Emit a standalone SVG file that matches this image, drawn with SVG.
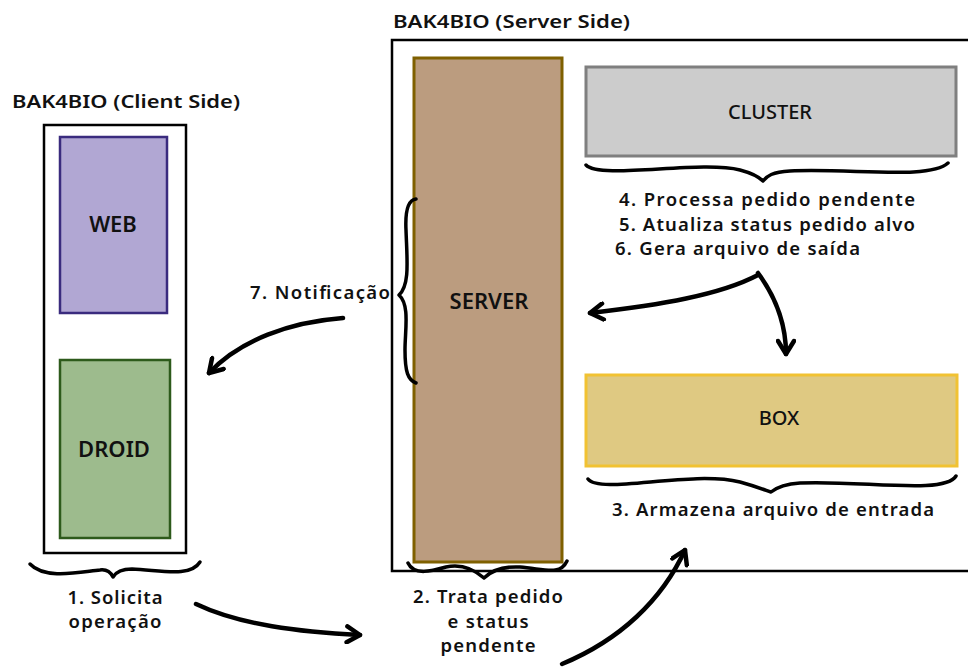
<svg xmlns="http://www.w3.org/2000/svg" width="968" height="669" viewBox="0 0 968 669">
  <defs>
    <style>
      text { font-family: "Noto Sans", "DejaVu Sans", sans-serif; fill: #111; }
      .title { font-size: 17px; font-weight: 600; }
      .lbl { font-size: 18.5px; font-weight: 600; }
      .node { font-size: 22px; font-weight: 600; text-anchor: middle; }
      .nodeR { font-size: 20px; font-weight: 500; text-anchor: middle; }
      .mid { text-anchor: middle; }
      .frame { fill: #fff; stroke: #000; stroke-width: 2.5; }
      .brace { fill: none; stroke: #000; stroke-width: 3.5; stroke-linecap: round; stroke-linejoin: round; }
      .arrow { fill: none; stroke: #000; stroke-width: 4.5; stroke-linecap: round; marker-end: url(#head); }
    </style>
    <marker id="head" viewBox="-16 -10 20 20" refX="0" refY="0" markerWidth="20" markerHeight="20" markerUnits="userSpaceOnUse" orient="auto">
      <path d="M-13,-8 L0,0 L-13,8" fill="none" stroke="#000" stroke-width="4.5" stroke-linecap="round" stroke-linejoin="round"/>
    </marker>
  </defs>

  <!-- client side -->
  <g id="client">
    <text class="title" x="12" y="108" textLength="228" lengthAdjust="spacingAndGlyphs">BAK4BIO (Client Side)</text>
    <rect class="frame" x="44" y="125" width="142" height="428"/>
  </g>
  <g id="web">
    <rect x="60" y="137" width="107" height="176" fill="#b1a7d3" stroke="#3a2b7e" stroke-width="2.5"/>
    <text class="node" x="113" y="232">WEB</text>
  </g>
  <g id="droid">
    <rect x="60" y="360" width="110" height="178" fill="#9dbb8d" stroke="#2d5a1b" stroke-width="2.5"/>
    <text class="node" x="114" y="457">DROID</text>
  </g>

  <!-- server side -->
  <g id="server-side">
    <text class="title" x="393" y="28" textLength="237" lengthAdjust="spacingAndGlyphs">BAK4BIO (Server Side)</text>
    <rect class="frame" x="392" y="40" width="600" height="531" stroke-width="2"/>
  </g>
  <g id="server">
    <rect x="414" y="58" width="148" height="504" fill="#bb9c7f" stroke="#7f6000" stroke-width="3"/>
    <text class="node" x="489" y="309">SERVER</text>
  </g>
  <g id="cluster">
    <rect x="586" y="67" width="370" height="89" fill="#cccccc" stroke="#7f7f7f" stroke-width="3"/>
    <text class="nodeR" x="770" y="119">CLUSTER</text>
  </g>
  <g id="box">
    <rect x="586" y="375" width="371" height="91" fill="#dfc982" stroke="#f1c232" stroke-width="3"/>
    <text class="nodeR" x="779" y="425">BOX</text>
  </g>

  <!-- annotations -->
  <g id="step1">
    <path class="brace" d="M30,564 C45,580 80,572 100,570 C108,569 111,573 113,577 C116,572 121,569 132,569 C160,570 190,578 200,562"/>
    <text class="lbl mid" x="115" y="604" textLength="95" lengthAdjust="spacing">1. Solicita</text>
    <text class="lbl mid" x="115" y="628" textLength="93" lengthAdjust="spacing">operação</text>
  </g>
  <g id="step2">
    <path class="brace" d="M408,563 C414,576 432,571 446,567 C464,563 476,571 484,578 C490,572 500,566 520,567 C545,569 560,576 567,561"/>
    <text class="lbl mid" x="488" y="603" textLength="150" lengthAdjust="spacing">2. Trata pedido</text>
    <text class="lbl mid" x="488" y="628" textLength="81" lengthAdjust="spacing">e status</text>
    <text class="lbl mid" x="488" y="652" textLength="95" lengthAdjust="spacing">pendente</text>
  </g>
  <g id="step3">
    <path class="brace" d="M588,479 C600,495 690,470 740,482 C758,487 765,490 771,492 C776,488 785,484 800,483 C860,480 945,495 956,476"/>
    <text class="lbl mid" x="773" y="516" textLength="322" lengthAdjust="spacing">3. Armazena arquivo de entrada</text>
  </g>
  <g id="steps456">
    <path class="brace" d="M586,165 C600,180 700,160 740,170 C755,174 760,178 763,181 C767,176 772,172 790,171 C850,168 930,180 948,163"/>
    <text class="lbl" x="619" y="206" textLength="296" lengthAdjust="spacing">4. Processa pedido pendente</text>
    <text class="lbl" x="619" y="231" textLength="296" lengthAdjust="spacing">5. Atualiza status pedido alvo</text>
    <text class="lbl" x="615" y="255" textLength="245" lengthAdjust="spacing">6. Gera arquivo de saída</text>
  </g>
  <g id="step7">
    <path class="brace" d="M416,199 C408,200 405,210 406,230 C407,260 410,285 399,295 C410,305 405,330 405,350 C405,372 408,380 416,383"/>
    <text class="lbl" x="390" y="299" text-anchor="end" textLength="140" lengthAdjust="spacing">7. Notificação</text>
  </g>

  <!-- connectors -->
  <g id="connectors">
    <path class="arrow" d="M196,604 C240,625 300,632 360,635"/>
    <path class="arrow" d="M562,664 C620,640 662,600 685,550"/>
    <path class="arrow" d="M758,275 C720,295 660,305 590,313"/>
    <path class="arrow" d="M758,273 C772,292 786,320 786,354"/>
    <path class="arrow" d="M343,318 C290,322 240,340 209,373"/>
  </g>
</svg>
